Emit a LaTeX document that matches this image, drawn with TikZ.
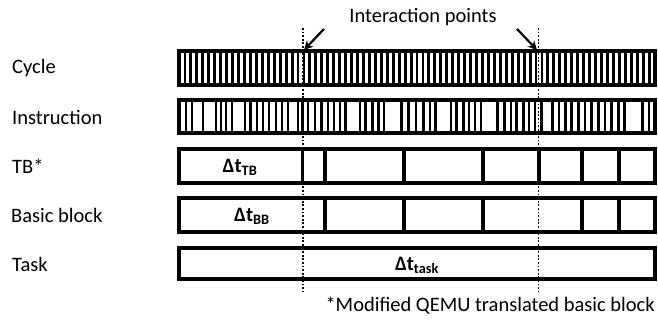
\documentclass[tikz,border=0pt]{standalone}
\usepackage{fontspec}
\setmainfont{Carlito}
\usetikzlibrary{arrows.meta}
\begin{document}
\begin{tikzpicture}[x=1pt,y=-1pt,
  rowbox/.style={line width=3.3pt},
  bar/.style={line width=2.9pt},
  divider/.style={line width=3.2pt},
  rowlabel/.style={anchor=west,inner sep=0pt,font=\fontsize{20.5}{24}\selectfont},
  dlabel/.style={inner sep=0pt,font=\fontsize{20.5}{24}\selectfont\bfseries},
  guide/.style={line width=1.9pt,dash pattern=on 1.8pt off 1.8pt},
  pointer/.style={line width=2.2pt,-{Stealth[length=9pt,width=9pt]}}]
\useasboundingbox (0,0) rectangle (658,320);
% row labels
\node[rowlabel] (lcyc) at (12,68) {Cycle};
\node[rowlabel] (lins) at (12,117) {Instruction};
\node[rowlabel] (ltb) at (12,166) {TB*};
\node[rowlabel] (lbb) at (11,215) {Basic block};
\node[rowlabel] (ltask) at (12,264) {Task};
% cycle row
\foreach \k in {1,...,79} {\draw[bar] ({179+5.95*\k},51) -- ({179+5.95*\k},85);}
\draw[rowbox] (179,51) rectangle (655,85);
% instruction row
\foreach \x in {186,192,203,216,221,226,232,245,250.5,257,263,269,276,282,288,298,302.7,308,315,321.7,328,334,340,345.7,360,365.7,372.3,378.3,384,401.7,408.3,416,423.3,430,435.7,451,456.7,463.3,469,475,481,497.7,504.3,511,516.7,523.3,529,535,541.7,552.3,559,565.7,571.7,578.3,585,591.7,598.3,605,611.7,618.3,624.3,642.3,649}
  {\draw[bar] (\x,100) -- (\x,133);}
\draw[rowbox] (179,100) rectangle (655,133);
% TB row
\foreach \x in {302.7,325,404,483,539,582,619} {\draw[divider] (\x,149) -- (\x,183);}
\draw[rowbox] (179,149) rectangle (655,183);
% BB row
\foreach \x in {325,404,483,582,619} {\draw[divider] (\x,198) -- (\x,232);}
\draw[rowbox] (179,198) rectangle (655,232);
% task row
\draw[rowbox] (179,248) rectangle (655,279);
% delta labels
\node[dlabel] (dtb) at (240,167) {Δt\textsubscript{TB}};
\node[dlabel] (dbb) at (252,216) {Δt\textsubscript{BB}};
\node[dlabel] (dtask) at (417,265) {Δt\textsubscript{task}};
% interaction points
\draw[guide] (302.7,28) -- (302.7,291);
\draw[guide] (538.5,28) -- (538.5,291);
\node[inner sep=0pt,font=\fontsize{20.5}{24}\selectfont] (ip) at (423,17) {Interaction points};
\coordinate (a1s) at (324,29);
\coordinate (a1e) at (304,50);
\coordinate (a2s) at (517,29);
\coordinate (a2e) at (537,50);
\draw[pointer] (a1s) -- (a1e);
\draw[pointer] (a2s) -- (a2e);
% footnote
\node[inner sep=0pt,anchor=east,font=\fontsize{20.5}{24}\selectfont] (foot) at (655,306) {*Modified QEMU translated basic block};
\end{tikzpicture}
\end{document}
